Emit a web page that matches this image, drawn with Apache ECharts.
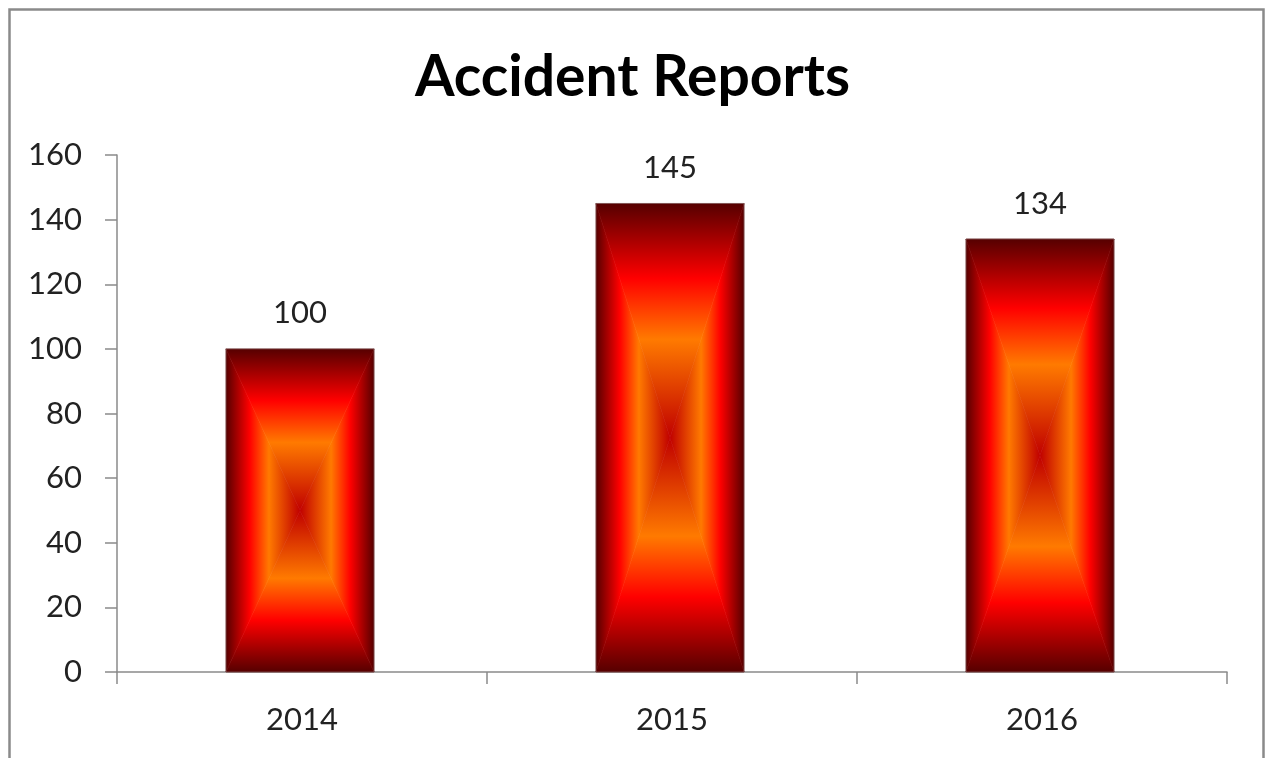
<!DOCTYPE html>
<html>
<head>
<meta charset="utf-8">
<script src="https://cdn.jsdelivr.net/npm/echarts@6/dist/echarts.min.js"></script>
<style>html,body{margin:0;padding:0;background:#fff;}#c{width:1265px;height:758px;}</style>
</head>
<body>
<div id="c"></div>
<script>
var titleText = 'Accident Reports';
var categories = ['2014', '2015', '2016'];
var reports = [100, 145, 134];
var yTicks = { min: 0, max: 160, interval: 20 };

var stops = [
  { offset: 0, color: '#560000' },
  { offset: 0.32, color: '#ff0000' },
  { offset: 0.58, color: '#ff7a00' },
  { offset: 1, color: '#c00000' }
];
function grad(x, y, x2, y2) {
  return { type: 'linear', x: x, y: y, x2: x2, y2: y2, global: true, colorStops: stops };
}

var chart = echarts.init(document.getElementById('c'));
var FONT = 'Lato';
chart.setOption({
  animation: false,
  backgroundColor: '#fff',
  title: {
    text: titleText, left: 'center', top: 44,
    textStyle: { fontFamily: FONT, fontWeight: 'bold', fontSize: 57, color: '#000' }
  },
  graphic: [{
    type: 'rect', left: 7, top: 7, silent: true, z: -1,
    shape: { x: 0, y: 0, width: 1254, height: 800 },
    style: { fill: 'none', stroke: '#8a8a8a', lineWidth: 2.5 }
  }],
  grid: { left: 117, right: 38, top: 155, bottom: 86, containLabel: false },
  xAxis: {
    type: 'category', data: categories, boundaryGap: true,
    axisLine: { lineStyle: { color: '#8a8a8a', width: 1.5 } },
    axisTick: { show: true, length: 12, lineStyle: { color: '#8a8a8a', width: 1.5 } },
    axisLabel: { fontFamily: FONT, fontSize: 31, color: '#222', margin: 32 }
  },
  yAxis: {
    type: 'value', min: yTicks.min, max: yTicks.max, interval: yTicks.interval,
    splitLine: { show: false },
    axisLine: { show: true, lineStyle: { color: '#8a8a8a', width: 1.5 } },
    axisTick: { show: true, length: 12, lineStyle: { color: '#8a8a8a', width: 1.5 } },
    axisLabel: { fontFamily: FONT, fontSize: 31, color: '#222', margin: 35 }
  },
  series: [{
    type: 'custom',
    data: reports.map(function (v, i) { return [i, v]; }),
    renderItem: function (params, api) {
      var top = api.coord([api.value(0), api.value(1)]);
      var base = api.coord([api.value(0), 0]);
      var w = api.size([1, 0])[0] * 0.4;
      var x0 = top[0] - w / 2 - 2, x1 = x0 + w, y0 = top[1], y1 = base[1];
      var cx = (x0 + x1) / 2, cy = (y0 + y1) / 2;
      function tri(pts, g) {
        return { type: 'polygon', shape: { points: pts }, style: { fill: g, stroke: g, lineWidth: 0.6 } };
      }
      return {
        type: 'group',
        children: [
          tri([[x0, y0], [x0, y1], [cx, cy]], grad(x0, cy, cx, cy)),
          tri([[x1, y0], [x1, y1], [cx, cy]], grad(x1, cy, cx, cy)),
          tri([[x0, y0], [x1, y0], [cx, cy]], grad(cx, y0, cx, cy)),
          tri([[x0, y1], [x1, y1], [cx, cy]], grad(cx, y1, cx, cy)),
          { type: 'rect', shape: { x: x0, y: y0, width: w, height: y1 - y0 }, style: { fill: 'none', stroke: 'rgba(140,110,110,0.6)', lineWidth: 1 } }
        ]
      };
    }
  }, {
    type: 'bar', data: reports, barWidth: '40%', z: 5,
    itemStyle: { color: 'rgba(0,0,0,0)' },
    label: { show: true, position: 'top', distance: 20, offset: [-2, 0], fontFamily: FONT, fontSize: 31, color: '#222' }
  }]
});
</script>
</body>
</html>
